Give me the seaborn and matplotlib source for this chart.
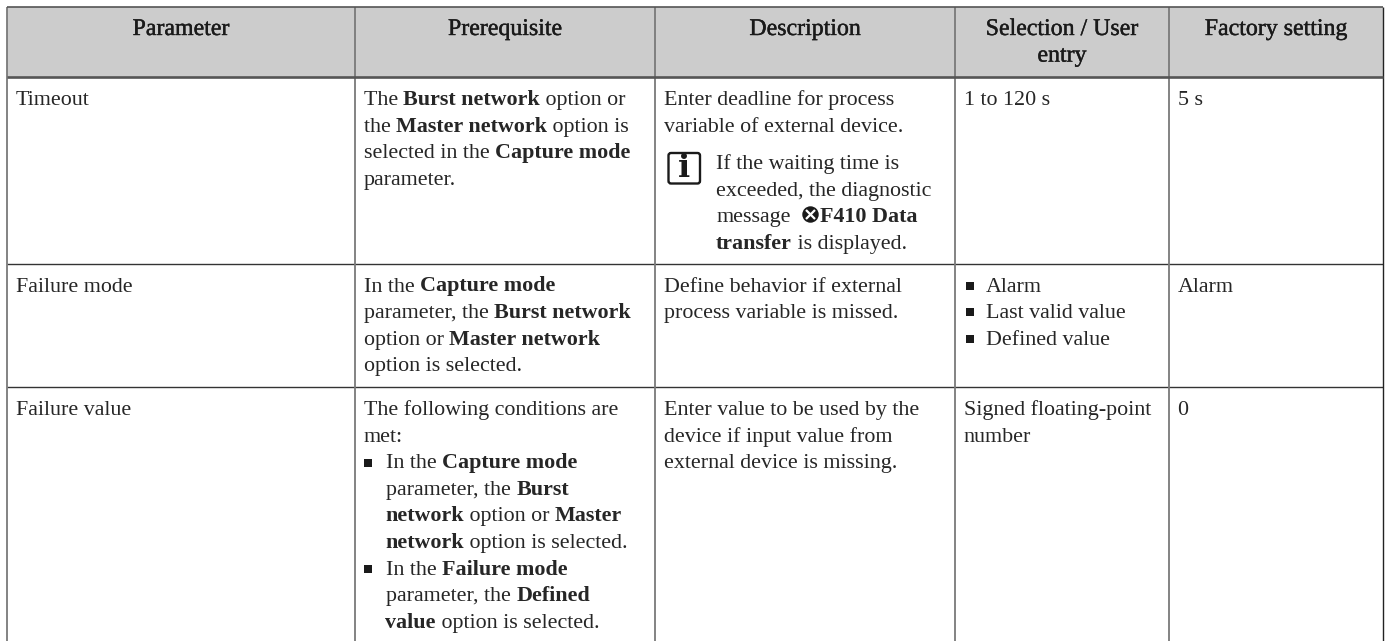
import matplotlib
matplotlib.use("Agg")
import matplotlib.pyplot as plt
from matplotlib.patches import FancyBboxPatch
import matplotlib.patheffects as pe
import seaborn as sns

# ---- table content -------------------------------------------------------
headers = [["Parameter"], ["Prerequisite"], ["Description"],
           ["Selection / User", "entry"], ["Factory setting"]]
row_names = ["Timeout", "Failure mode", "Failure value"]
prereq_1 = ["The **Burst network** option or", "the **Master network** option is",
            "selected in the **Capture mode**", "parameter."]
prereq_2 = ["In the **Capture mode**", "parameter, the **Burst network**",
            "option or **Master network**", "option is selected."]
prereq_3_intro = ["The following conditions are", "met:"]
prereq_3_a = ["In the **Capture mode**", "parameter, the **Burst**",
              "**network** option or **Master**", "**network** option is selected."]
prereq_3_b = ["In the **Failure mode**", "parameter, the **Defined**",
              "**value** option is selected."]
descr_1 = ["Enter deadline for process", "variable of external device."]
note_1 = ["If the waiting time is", "exceeded, the diagnostic", "message"]
note_1_bold = "**F410 Data**"
note_1_last = "**transfer** is displayed."
descr_2 = ["Define behavior if external", "process variable is missed."]
descr_3 = ["Enter value to be used by the", "device if input value from",
           "external device is missing."]
select_1 = ["1 to 120 s"]
select_2 = ["Alarm", "Last valid value", "Defined value"]
select_3 = ["Signed floating-point", "number"]
factory = ["5 s", "Alarm", "0"]

# ---- geometry of the table ----------------------------------------------
col_edges = [7, 355, 655, 955, 1169, 1383]
row_edges = [7, 77, 264, 387, 641]
LINE = 26.6
BASE = [105, 291.5, 415]
HEAD_BASE = 35
PAD = 8.5
TEXT_C = "#262626"
FONT = "Liberation Serif"
SIZE = 15.85
HEAD_SIZE = 17.2

sns.set_theme(style="white")
plt.rcParams["font.family"] = [FONT, "DejaVu Serif"]
fig = plt.figure(figsize=(13.89, 6.41), dpi=100, facecolor="white")
ax = fig.add_axes([0, 0, 1, 1])
ax.set_xlim(0, 1389)
ax.set_ylim(641, 0)
ax.axis("off")
rend = fig.canvas.get_renderer()


def rule(xs, ys, color, lw):
    sns.lineplot(x=xs, y=ys, color=color, linewidth=lw, ax=ax, sort=False,
                 estimator=None, legend=False, solid_capstyle="butt")


def width(s, weight):
    t = ax.text(0, 0, s, fontsize=SIZE, weight=weight)
    w = t.get_window_extent(rend).width
    t.remove()
    return w


def advance(s, weight):
    bar = width("|", weight)
    gap = width("||", weight) - 2 * bar
    return width(s + "|", weight) - bar - gap / 2


def rich(x, y, s):
    parts = s.split("**")
    if not parts[0]:
        x -= 0.8
    for i, p in enumerate(parts):
        if not p:
            continue
        w = "bold" if i % 2 else "normal"
        ax.text(x, y, p, fontsize=SIZE, weight=w, color=TEXT_C, va="baseline", ha="left")
        x += advance(p, w)
    return x


def block(x, y, lines):
    for i, s in enumerate(lines):
        rich(x, y + i * LINE, s)
    return y + len(lines) * LINE


def bullets(x_dot, x_txt, y, lines_per_item):
    for lines in lines_per_item:
        sns.scatterplot(x=[x_dot], y=[y - 5.7], marker="s", s=30, color="#1a1a1a",
                        linewidth=0, ax=ax, legend=False)
        y = block(x_txt, y, lines)
    return y


# header band
ax.fill_between(col_edges[0:1] + col_edges[-1:], row_edges[0], row_edges[1],
                color="#cccccc", linewidth=0)

# rules
for y in row_edges[2:4]:
    rule([col_edges[0], col_edges[-1]], [y, y], "#333333", 1.0)
for x in col_edges[:-1]:
    rule([x, x], [row_edges[0], row_edges[-1]], "#7a7a7a", 1.3)
rule([col_edges[-1]] * 2, [row_edges[0], row_edges[-1]], "#222222", 1.0)
rule([col_edges[0], col_edges[-1]], [row_edges[0]] * 2, "#555555", 1.2)
rule([col_edges[0], col_edges[-1]], [row_edges[1]] * 2, "#555555", 1.9)

# header text
for i, lines in enumerate(headers):
    cx = (col_edges[i] + col_edges[i + 1]) / 2
    for j, s in enumerate(lines):
        t = ax.text(cx, HEAD_BASE + j * LINE, s, fontsize=HEAD_SIZE, color="#1a1a1a",
                    ha="center", va="baseline")
        t.set_path_effects([pe.withStroke(linewidth=0.3, foreground="#1a1a1a")])

cx = [e + PAD for e in col_edges]

# first column and last column
for name, val, y in zip(row_names, factory, BASE):
    rich(cx[0], y, name)
    rich(cx[4], y, val)

# prerequisite column
block(cx[1], BASE[0], prereq_1)
block(cx[1], BASE[1], prereq_2)
y3 = block(cx[1], BASE[2], prereq_3_intro)
bullets(cx[1] + 4.5, cx[1] + 22.5, y3, [prereq_3_a, prereq_3_b])

# description column
block(cx[2], BASE[0], descr_1)
block(cx[2], BASE[1], descr_2)
block(cx[2], BASE[2], descr_3)

# note with information icon
note_x = 716.5
note_y = 169
block(note_x, note_y, note_1)
ax.add_patch(FancyBboxPatch((669.5, 154), 29.5, 28.5,
                            boxstyle="round,pad=1,rounding_size=2.5",
                            fc="white", ec="#1a1a1a", lw=1.7))
ax.text(684.3, 168.5, "i", fontsize=23, weight="bold", family="DejaVu Serif",
        color="#1a1a1a", ha="center", va="center")
msg_y = note_y + 2 * LINE
sns.scatterplot(x=[809.5], y=[msg_y - 8], marker="o", s=140, color="#1a1a1a",
                linewidth=0, ax=ax, legend=False)
sns.scatterplot(x=[809.5], y=[msg_y - 8], marker="x", s=42, color="white",
                linewidth=1.6, ax=ax, legend=False)
rich(820.8, msg_y, note_1_bold)
rich(note_x, note_y + 3 * LINE, note_1_last)

# selection column
block(cx[3], BASE[0], select_1)
bullets(cx[3] + 6, cx[3] + 22, BASE[1], [[s] for s in select_2])
block(cx[3], BASE[2], select_3)

ax.set_xlim(0, 1389)
ax.set_ylim(641, 0)
fig.savefig("out.png", dpi=100, facecolor="white")
